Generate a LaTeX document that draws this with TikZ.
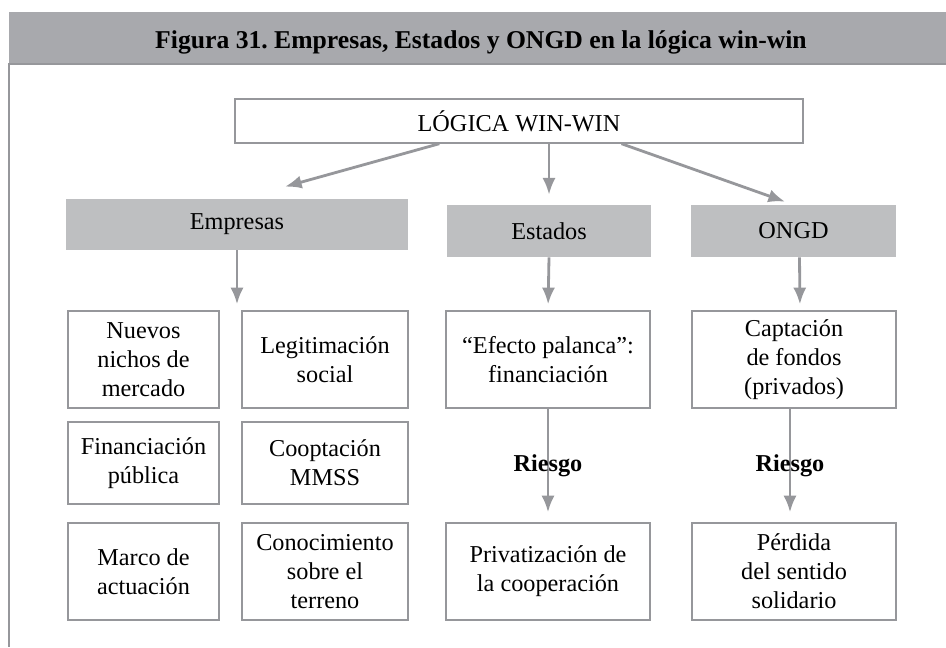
\documentclass[tikz,border=0pt]{standalone}
\usepackage{fontspec}
\setmainfont{Liberation Serif}
\usetikzlibrary{positioning}
\usetikzlibrary{calc}
\usetikzlibrary{arrows.meta}

\definecolor{headgray}{RGB}{168,169,173}
\definecolor{boxgray}{RGB}{190,191,193}
\definecolor{linegray}{RGB}{150,151,155}
\newcommand{\bodysize}{\fontsize{13.8}{16.5}\selectfont}

\begin{document}
\begin{tikzpicture}[x=0.02cm,y=-0.02cm,font=\bodysize,
box/.style={draw=linegray,line width=0.8pt,align=center,inner sep=0pt},
head/.style={fill=boxgray,align=center,inner sep=0pt},
arr/.style={-{Latex[length=9.5pt,width=7.5pt]},linegray,line width=1.6pt}]
\useasboundingbox(0,0)rectangle(946,647);
%%header
\fill[headgray](9,12)rectangle(946,64);
\draw[linegray,line width=0.8pt](946,64)--(9,64)--(9,647);
\node[anchor=base,font=\fontsize{14.6}{16}\selectfont\bfseries](T)at(481,48)
{Figura 31.\ Empresas, Estados y ONGD en la lógica win-win};

\node[box,minimum width=11.36cm,minimum height=0.88cm](W)at(519,121){LÓGICA WIN-WIN};
\node[head,minimum width=6.84cm,minimum height=1.02cm](E)at(237,224.5){Empresas};
\node[head,minimum width=4.08cm,minimum height=1.04cm](S)at(549,231){Estados};
\node[head,minimum width=4.1cm,minimum height=1.04cm](O)at(793.5,231){ONGD};

%%boxes
\foreach \x/\y/\w/\h/\n/\t in {143.5/359.5/3.02/1.94/E1/{Nuevos\\nichos de\\mercado},
325/359.5/3.32/1.94/E2/{Legitimación\\social},
143.5/463/3.02/1.64/E3/{Financiación\\pública},
325/463/3.32/1.64/E4/{Cooptación\\MMSS},
143.5/571.5/3.02/1.94/E5/{Marco de\\actuación},
325/571.5/3.32/1.94/E6/{Conocimiento\\sobre el\\terreno},
548/359.5/4.08/1.94/S1/{“Efecto palanca”:\\financiación},
548/571.5/4.08/1.94/S2/{Privatización de\\la cooperación},
794/359.5/4.08/1.94/O1/{Captación\\de fondos\\(privados)},
794/571.5/4.08/1.94/O2/{Pérdida\\del sentido\\solidario}}
\node[box,minimum width=\w cm,minimum height=\h cm](\n)at(\x,\y){\t};

%%arrows
\draw[arr]($(W.south)!.28!(W.south west)$)--($(E.north)+(48,-12)$);
\draw[arr,shorten >=0.2cm](W.south -| S.north)--(S.north);
\draw[arr,shorten >=0.18cm]($(W.south)!.36!(W.south east)$)--(O.north);
\draw[arr,shorten >=0.12cm](E.south)--(E.south |- E2.north);
\draw[arr,shorten >=0.12cm](S.south)--(S1.north);
\draw[arr,shorten >=0.12cm]($(O.south)+(6,0)$)--($(O1.north)+(6,0)$);
\draw[arr,shorten >=0.2cm](S1.south)--(S2.north)
node[midway,text=black,font=\bodysize\bfseries](R1){Riesgo};
\draw[arr,shorten >=0.2cm]($(O1.south)+(-4,0)$)--($(O2.north)+(-4,0)$)
node[midway,text=black,font=\bodysize\bfseries](R2){Riesgo};
\end{tikzpicture}
\end{document}
